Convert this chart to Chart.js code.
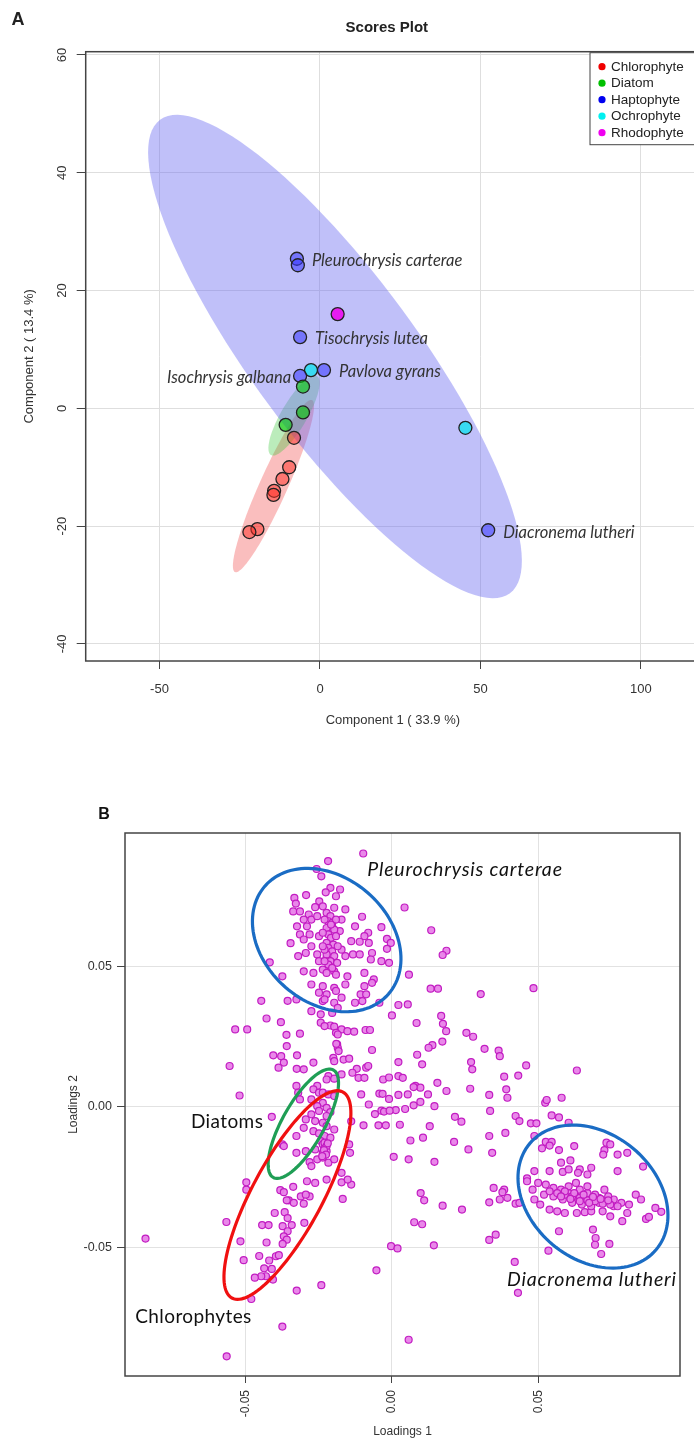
<!DOCTYPE html>
<html>
<head>
<meta charset="utf-8">
<script src="https://cdn.jsdelivr.net/npm/chart.js@4.4.0/dist/chart.umd.min.js"></script>
<style>
  html, body { margin: 0; padding: 0; background: #fff; overflow: hidden; width: 694px; height: 1441px; }
  #wrapA { position: absolute; left: 0; top: 0; }
  #wrapB { position: absolute; left: 0; top: 770px; }
</style>
</head>
<body>
<div id="wrapA"><canvas id="scoresChart" width="720" height="745"></canvas></div>
<div id="wrapB"><canvas id="loadingsChart" width="694" height="671"></canvas></div>
<script>
// =====================================================
// Panel A data: PCA scores
// =====================================================

const groupNames = ['Chlorophyte', 'Diatom', 'Haptophyte', 'Ochrophyte', 'Rhodophyte'];
const groupColors = ['#f00000', '#00c000', '#0000f0', '#00f0f0', '#f000f0'];
const groupFills = ['rgba(255,45,35,0.5)', 'rgba(0,200,0,0.6)', 'rgba(55,55,255,0.55)', 'rgba(0,230,240,0.7)', 'rgba(240,0,240,0.85)'];

const comp1Chlorophyte = [-8.1, -9.6, -11.7, -14.3, -14.5, -19.5, -22.0];
const comp2Chlorophyte = [-5.0, -10.0, -12.0, -14.0, -14.7, -20.5, -21.0];
const comp1Diatom = [-5.3, -5.3, -10.7];
const comp2Diatom = [3.7, -0.7, -2.8];
const comp1Haptophyte = [-7.2, -6.9, -6.2, -6.2, 1.25, 52.4];
const comp2Haptophyte = [25.4, 24.3, 12.1, 5.5, 6.5, -20.7];
const comp1Ochrophyte = [-2.8, 45.3];
const comp2Ochrophyte = [6.5, -3.3];
const comp1Rhodophyte = [5.5];
const comp2Rhodophyte = [16.0];

const comp1 = [comp1Chlorophyte, comp1Diatom, comp1Haptophyte, comp1Ochrophyte, comp1Rhodophyte];
const comp2 = [comp2Chlorophyte, comp2Diatom, comp2Haptophyte, comp2Ochrophyte, comp2Rhodophyte];

// species names, attached to haptophyte points
const speciesNames = ['Pleurochrysis carterae', 'Tisochrysis lutea', 'Isochrysis galbana', 'Pavlova gyrans', 'Diacronema lutheri'];
const speciesPoint = [0, 2, 3, 4, 5];
const speciesSide = ['right', 'right', 'left', 'right', 'right'];

// 95% confidence regions (centre, two half-axis vectors in score units)
const ellipseGroup = [0, 1, 2];
const ellipseCenter = [[-14.5, -13.2], [-8.1, -1.22], [4.67, 8.8]];
const ellipseAxisU = [[12.0, 14.6], [7.17, 6.71], [54.5, -40.2]];
const ellipseAxisV = [[3.98, -0.97], [3.49, -1.11], [-20.5, -8.29]];
const ellipseFill = ['rgba(240,70,70,0.35)', 'rgba(60,200,60,0.35)', 'rgba(105,105,240,0.42)'];

const scoreTicksX = [-50, 0, 50, 100];
const scoreTicksY = [-40, -20, 0, 20, 40, 60];

// =====================================================
// Panel B data: loadings [Loadings 1, Loadings 2]
// =====================================================

const pleuroPts = [
    [-0.0098, 0.0901], [-0.0218, 0.0874], [-0.0257, 0.0846], [-0.0241, 0.0820], [0.0043, 0.0709],
    [0.0134, 0.0628], [0.0186, 0.0555], [0.0173, 0.0540], [0.0058, 0.0470], [-0.0417, 0.0514], [-0.0374, 0.0464],
    [-0.0210, 0.0779], [-0.0177, 0.0773], [-0.0226, 0.0763], [-0.0191, 0.0749], [-0.0333, 0.0743],
    [-0.0293, 0.0753], [-0.0328, 0.0723], [-0.0248, 0.0731], [-0.0262, 0.0710], [-0.0236, 0.0713],
    [-0.0159, 0.0702], [-0.0337, 0.0695], [-0.0314, 0.0695], [-0.0284, 0.0684], [-0.0197, 0.0708],
    [-0.0102, 0.0676], [-0.0301, 0.0666], [-0.0275, 0.0666], [-0.0255, 0.0678], [-0.0172, 0.0666],
    [-0.0204, 0.0642], [-0.0290, 0.0642], [-0.0324, 0.0642], [-0.0314, 0.0613], [-0.0281, 0.0613],
    [-0.0249, 0.0607], [-0.0217, 0.0625], [-0.0178, 0.0625], [-0.0126, 0.0642], [-0.0036, 0.0639],
    [-0.0081, 0.0619], [-0.0094, 0.0607], [-0.0110, 0.0587], [-0.0139, 0.0589], [-0.0079, 0.0583],
    [-0.0017, 0.0597], [-0.0004, 0.0583], [-0.0017, 0.0562], [-0.0068, 0.0547], [-0.0072, 0.0524],
    [-0.0036, 0.0518], [-0.0010, 0.0512], [-0.0346, 0.0582], [-0.0301, 0.0595], [-0.0275, 0.0571],
    [-0.0294, 0.0547], [-0.0320, 0.0536], [-0.0255, 0.0542], [-0.0249, 0.0518], [-0.0223, 0.0530],
    [-0.0172, 0.0559], [-0.0159, 0.0536], [-0.0133, 0.0542], [-0.0110, 0.0542], [-0.0210, 0.0500],
    [-0.0236, 0.0488], [-0.0197, 0.0482], [-0.0152, 0.0464], [-0.0094, 0.0476], [-0.0062, 0.0453],
    [-0.0301, 0.0482], [-0.0268, 0.0476],
    [-0.0223, 0.0690], [-0.0210, 0.0678], [-0.0217, 0.0660], [-0.0204, 0.0654], [-0.0223, 0.0636],
    [-0.0197, 0.0630], [-0.0217, 0.0613], [-0.0208, 0.0601], [-0.0223, 0.0583], [-0.0200, 0.0577],
    [-0.0217, 0.0565], [-0.0204, 0.0553], [-0.0223, 0.0542], [-0.0197, 0.0536], [-0.0210, 0.0518],
    [-0.0217, 0.0506], [-0.0204, 0.0494], [-0.0223, 0.0476], [-0.0191, 0.0470], [-0.0230, 0.0666],
    [-0.0191, 0.0666], [-0.0236, 0.0619], [-0.0191, 0.0607], [-0.0230, 0.0559], [-0.0185, 0.0571],
    [-0.0230, 0.0518], [-0.0187, 0.0512], [-0.0236, 0.0571], [-0.0208, 0.0648],
    [-0.0275, 0.0435], [-0.0236, 0.0429], [-0.0197, 0.0423], [-0.0159, 0.0435], [-0.0094, 0.0429],
    [-0.0068, 0.0441], [-0.0249, 0.0406], [-0.0223, 0.0400], [-0.0191, 0.0412], [-0.0172, 0.0388],
    [-0.0236, 0.0376], [-0.0197, 0.0370], [-0.0230, 0.0382], [-0.0107, 0.0400], [-0.0088, 0.0400],
    [-0.0043, 0.0370], [-0.0275, 0.0340], [-0.0243, 0.0329], [-0.0204, 0.0334], [-0.0185, 0.0352],
    [-0.0126, 0.0370], [-0.0101, 0.0376]
];

const spreadPts = [
    [0.0132, 0.0420], [0.0157, 0.0420], [0.0303, 0.0401], [0.0483, 0.0422], [-0.0446, 0.0377],
    [-0.0356, 0.0377], [-0.0326, 0.0382], [0.0022, 0.0362], [0.0054, 0.0364], [0.0000, 0.0325],
    [0.0168, 0.0323], [0.0084, 0.0298], [0.0174, 0.0295], [0.0185, 0.0269], [0.0254, 0.0263],
    [0.0277, 0.0249], [0.0172, 0.0232], [0.0138, 0.0219], [0.0125, 0.0210], [0.0316, 0.0206],
    [0.0364, 0.0200], [0.0368, 0.0180], [0.0270, 0.0159], [0.0274, 0.0133], [0.0383, 0.0107],
    [0.0431, 0.0111], [0.0458, 0.0147], [0.0631, 0.0129], [0.0022, 0.0159], [0.0103, 0.0151],
    [0.0086, 0.0185], [-0.0068, 0.0202], [-0.0428, 0.0314], [-0.0379, 0.0301], [-0.0360, 0.0256],
    [-0.0314, 0.0260], [-0.0359, 0.0216], [-0.0324, 0.0183], [-0.0405, 0.0183], [-0.0378, 0.0180],
    [-0.0369, 0.0157], [-0.0387, 0.0139], [-0.0325, 0.0135], [-0.0301, 0.0133], [-0.0268, 0.0157],
    [-0.0535, 0.0275], [-0.0494, 0.0275], [-0.0554, 0.0145], [-0.0520, 0.0040],
    [-0.0243, 0.0299], [-0.0210, 0.0289], [-0.0230, 0.0287], [-0.0197, 0.0285], [-0.0172, 0.0275],
    [-0.0191, 0.0263], [-0.0185, 0.0257], [-0.0152, 0.0269], [-0.0129, 0.0267], [-0.0090, 0.0273],
    [-0.0075, 0.0273], [-0.0187, 0.0222], [-0.0185, 0.0210], [-0.0182, 0.0198], [-0.0190, 0.0224],
    [-0.0200, 0.0174], [-0.0197, 0.0162], [-0.0165, 0.0168], [-0.0146, 0.0171], [-0.0120, 0.0135],
    [-0.0088, 0.0139], [-0.0081, 0.0145], [-0.0135, 0.0121], [-0.0114, 0.0103], [-0.0094, 0.0103],
    [-0.0172, 0.0115], [-0.0217, 0.0109], [-0.0197, 0.0100],
    [-0.0030, 0.0097], [-0.0010, 0.0104], [0.0022, 0.0109], [0.0037, 0.0103], [0.0080, 0.0074],
    [0.0097, 0.0068], [0.0074, 0.0070], [0.0155, 0.0085], [0.0186, 0.0056], [0.0267, 0.0064],
    [0.0332, 0.0042], [0.0390, 0.0062], [0.0394, 0.0032], [-0.0043, 0.0047], [-0.0032, 0.0046],
    [-0.0010, 0.0028], [0.0022, 0.0042], [0.0054, 0.0044], [0.0123, 0.0044], [-0.0079, 0.0008],
    [-0.0105, 0.0044], [0.0013, -0.0012], [-0.0036, -0.0014], [-0.0027, -0.0017], [-0.0008, -0.0014],
    [-0.0058, -0.0026], [0.0045, -0.0008], [0.0074, 0.0005], [0.0097, 0.0017], [0.0145, 0.0002],
    [0.0215, -0.0036], [0.0237, -0.0053], [0.0335, -0.0015], [0.0422, -0.0033], [0.0435, -0.0051],
    [0.0474, -0.0059], [0.0493, -0.0059], [0.0523, 0.0014], [0.0528, 0.0024], [0.0579, 0.0032],
    [0.0545, -0.0031], [0.0570, -0.0038], [0.0603, -0.0057], [-0.0097, -0.0066], [-0.0139, -0.0052],
    [-0.0046, -0.0066], [-0.0021, -0.0066], [0.0027, -0.0064], [0.0129, -0.0069], [0.0063, -0.0120],
    [0.0106, -0.0110], [0.0212, -0.0125], [0.0261, -0.0152], [0.0332, -0.0104], [0.0387, -0.0093],
    [0.0342, -0.0164], [0.0006, -0.0178], [0.0057, -0.0187], [0.0145, -0.0196],
    [0.0098, -0.0307], [0.0110, -0.0333], [0.0173, -0.0352], [0.0239, -0.0366], [0.0076, -0.0411],
    [0.0103, -0.0418], [0.0143, -0.0493], [-0.0003, -0.0496], [0.0019, -0.0504], [-0.0053, -0.0582],
    [0.0057, -0.0829], [0.0332, -0.0474], [0.0354, -0.0455], [0.0419, -0.0552], [0.0430, -0.0662],
    [0.0534, -0.0512], [0.0332, -0.0340], [0.0368, -0.0330], [0.0394, -0.0324], [0.0422, -0.0345],
    [0.0435, -0.0342], [0.0347, -0.0289], [0.0383, -0.0295], [0.0377, -0.0304],
    [-0.0841, -0.0469], [-0.0565, -0.0410], [-0.0517, -0.0479], [-0.0506, -0.0546], [-0.0564, -0.0888],
    [-0.0374, -0.0782], [-0.0325, -0.0654], [-0.0241, -0.0635], [-0.0480, -0.0684]
];

const algaePts = [
    [-0.0223, 0.0097], [-0.0255, 0.0074], [-0.0268, 0.0062], [-0.0326, 0.0074], [-0.0320, 0.0050],
    [-0.0249, 0.0050], [-0.0236, 0.0050], [-0.0217, 0.0044], [-0.0197, 0.0038], [-0.0275, 0.0026],
    [-0.0314, 0.0026], [-0.0236, 0.0014], [-0.0255, 0.0002], [-0.0223, -0.0004], [-0.0249, -0.0015],
    [-0.0210, -0.0019], [-0.0223, -0.0033], [-0.0275, -0.0027], [-0.0294, -0.0045], [-0.0262, -0.0051],
    [-0.0236, -0.0057], [-0.0223, -0.0069], [-0.0197, -0.0081], [-0.0301, -0.0075], [-0.0268, -0.0087],
    [-0.0249, -0.0095], [-0.0230, -0.0104], [-0.0210, -0.0110], [-0.0243, -0.0122], [-0.0236, -0.0134],
    [-0.0230, -0.0146], [-0.0223, -0.0158], [-0.0236, -0.0164], [-0.0262, -0.0152], [-0.0294, -0.0158],
    [-0.0326, -0.0164], [-0.0374, -0.0134], [-0.0369, -0.0140], [-0.0410, -0.0036], [-0.0326, -0.0104],
    [-0.0281, -0.0197], [-0.0275, -0.0211], [-0.0255, -0.0187], [-0.0236, -0.0181], [-0.0217, -0.0199],
    [-0.0197, -0.0187], [-0.0146, -0.0134], [-0.0143, -0.0164], [-0.0172, -0.0235],
    [-0.0230, -0.0128], [-0.0223, -0.0140], [-0.0232, -0.0154], [-0.0225, -0.0170], [-0.0238, -0.0176],
    [-0.0219, -0.0130],
    [-0.0497, -0.0295], [-0.0497, -0.0269], [-0.0381, -0.0297], [-0.0369, -0.0304], [-0.0337, -0.0285],
    [-0.0311, -0.0319], [-0.0281, -0.0319], [-0.0294, -0.0313], [-0.0352, -0.0333], [-0.0335, -0.0342],
    [-0.0359, -0.0333], [-0.0301, -0.0345], [-0.0400, -0.0378], [-0.0366, -0.0375], [-0.0356, -0.0396],
    [-0.0443, -0.0421], [-0.0421, -0.0421], [-0.0373, -0.0425], [-0.0342, -0.0421], [-0.0299, -0.0413],
    [-0.0356, -0.0443], [-0.0369, -0.0461], [-0.0359, -0.0473], [-0.0373, -0.0488], [-0.0428, -0.0483],
    [-0.0453, -0.0531], [-0.0419, -0.0547], [-0.0396, -0.0532], [-0.0386, -0.0528], [-0.0436, -0.0575],
    [-0.0410, -0.0577], [-0.0430, -0.0603], [-0.0446, -0.0603], [-0.0468, -0.0608], [-0.0406, -0.0615],
    [-0.0290, -0.0265], [-0.0262, -0.0271], [-0.0223, -0.0259], [-0.0172, -0.0269], [-0.0139, -0.0277],
    [-0.0168, -0.0328], [-0.0151, -0.0259]
];

const diacroPts = [
    [0.0486, -0.0104], [0.0525, -0.0125], [0.0545, -0.0125], [0.0538, -0.0138], [0.0512, -0.0148],
    [0.0570, -0.0154], [0.0622, -0.0140], [0.0732, -0.0128], [0.0745, -0.0134], [0.0725, -0.0154],
    [0.0721, -0.0170], [0.0770, -0.0170], [0.0803, -0.0164], [0.0857, -0.0213], [0.0609, -0.0191],
    [0.0577, -0.0199], [0.0538, -0.0229], [0.0583, -0.0232], [0.0603, -0.0223], [0.0641, -0.0223],
    [0.0680, -0.0217], [0.0486, -0.0229], [0.0635, -0.0235], [0.0667, -0.0241], [0.0770, -0.0229],
    [0.0461, -0.0255],
    [0.0570, -0.0443], [0.0686, -0.0437], [0.0695, -0.0467], [0.0742, -0.0488], [0.0714, -0.0524],
    [0.0693, -0.0491], [0.0899, -0.0360], [0.0919, -0.0374], [0.0867, -0.0399], [0.0877, -0.0392],
    [0.0832, -0.0313], [0.0850, -0.0330], [0.0786, -0.0407], [0.0803, -0.0378], [0.0486, -0.0330],
    [0.0506, -0.0348], [0.0538, -0.0366], [0.0564, -0.0372], [0.0590, -0.0378], [0.0631, -0.0378],
    [0.0658, -0.0375], [0.0680, -0.0372], [0.0719, -0.0372], [0.0745, -0.0390], [0.0757, -0.0354],
    [0.0809, -0.0348], [0.0783, -0.0342], [0.0480, -0.0295], [0.0519, -0.0313], [0.0551, -0.0319],
    [0.0583, -0.0330], [0.0615, -0.0342], [0.0648, -0.0348], [0.0680, -0.0354], [0.0706, -0.0342],
    [0.0732, -0.0336], [0.0757, -0.0330], [0.0603, -0.0307], [0.0628, -0.0319], [0.0654, -0.0324],
    [0.0680, -0.0330], [0.0706, -0.0324], [0.0738, -0.0319], [0.0577, -0.0295], [0.0551, -0.0289],
    [0.0525, -0.0277], [0.0499, -0.0271], [0.0461, -0.0265], [0.0603, -0.0283], [0.0641, -0.0295],
    [0.0667, -0.0307], [0.0693, -0.0313], [0.0628, -0.0271], [0.0667, -0.0283], [0.0725, -0.0295],
    [0.0538, -0.0301], [0.0564, -0.0307], [0.0590, -0.0313], [0.0615, -0.0319], [0.0641, -0.0324],
    [0.0667, -0.0333], [0.0693, -0.0336], [0.0719, -0.0345], [0.0745, -0.0348], [0.0770, -0.0354],
    [0.0590, -0.0301], [0.0622, -0.0307], [0.0654, -0.0313], [0.0686, -0.0321], [0.0712, -0.0328],
    [0.0738, -0.0333], [0.0641, -0.0336], [0.0673, -0.0342], [0.0577, -0.0319], [0.0609, -0.0328]
];

// hand-drawn rings of panel B (centre, two half-axis vectors in loading units)
const ringNames = ['Pleurochrysis carterae', 'Diatoms', 'Chlorophytes', 'Diacronema lutheri'];
const ringCenter = [[-0.02227, 0.0593], [-0.03024, -0.00605], [-0.03567, -0.03142], [0.0686, -0.03196]];
const ringAxisU = [[0.02106, -0.01922], [0.01027, 0.01911], [0.01894, 0.03665], [0.0216, -0.01883]];
const ringAxisV = [[-0.0141, -0.01676], [0.00622, -0.00364], [0.01051, -0.00591], [-0.01372, -0.01712]];
const ringColors = ['#1a6cc4', '#1f9e55', '#f01010', '#1a6cc4'];
const ringLabelAt = [[-0.0084, 0.0842], [-0.0686, -0.0054], [-0.0876, -0.0746], [0.0393, -0.0617]];
const ringItalic = [true, false, false, true];

const loadingTicks = [-0.05, 0, 0.05];

// =====================================================
// Shared helpers
// =====================================================

Chart.defaults.font.family = '"Liberation Sans", Arial, sans-serif';
Chart.defaults.color = '#333';

function traceEllipse(ctx, xs, ys, c, u, v) {
    ctx.beginPath();
    const n = 120;
    for (let i = 0; i <= n; i++) {
        const t = (i / n) * Math.PI * 2;
        const px = xs.getPixelForValue(c[0] + u[0] * Math.cos(t) + v[0] * Math.sin(t));
        const py = ys.getPixelForValue(c[1] + u[1] * Math.cos(t) + v[1] * Math.sin(t));
        if (i === 0) ctx.moveTo(px, py); else ctx.lineTo(px, py);
    }
    ctx.closePath();
}

function clipToArea(ctx, a) {
    ctx.beginPath();
    ctx.rect(a.left, a.top, a.right - a.left, a.bottom - a.top);
    ctx.clip();
}

// =====================================================
// Panel A: Scores Plot
// =====================================================

const scoresDecor = {
    id: 'scoresDecor',
    beforeDatasetsDraw(chart) {
        const { ctx, chartArea, scales } = chart;
        ctx.save();
        clipToArea(ctx, chartArea);
        ellipseGroup.forEach((g, i) => {
            traceEllipse(ctx, scales.x, scales.y, ellipseCenter[i], ellipseAxisU[i], ellipseAxisV[i]);
            ctx.fillStyle = ellipseFill[i];
            ctx.fill();
        });
        ctx.restore();
    },
    afterDatasetsDraw(chart) {
        const { ctx, scales } = chart;
        ctx.save();
        ctx.font = 'italic 16.5px Lato, "Open Sans", sans-serif';
        ctx.fillStyle = '#333';
        ctx.textBaseline = 'middle';
        speciesNames.forEach((name, i) => {
            const k = speciesPoint[i];
            const px = scales.x.getPixelForValue(comp1Haptophyte[k]);
            const py = scales.y.getPixelForValue(comp2Haptophyte[k]) + 2;
            if (speciesSide[i] === 'left') {
                ctx.textAlign = 'right';
                ctx.fillText(name, px - 9, py);
            } else {
                ctx.textAlign = 'left';
                ctx.fillText(name, px + 15, py);
            }
        });
        ctx.restore();
    },
    afterDraw(chart) {
        const { ctx, chartArea, scales } = chart;
        ctx.save();
        // plot box
        ctx.strokeStyle = '#444';
        ctx.lineWidth = 1.5;
        ctx.strokeRect(chartArea.left, chartArea.top, chartArea.right - chartArea.left, chartArea.bottom - chartArea.top);

        // rotated y tick labels
        ctx.fillStyle = '#333';
        ctx.font = '13px "Liberation Sans", Arial, sans-serif';
        ctx.textAlign = 'center';
        ctx.textBaseline = 'middle';
        scoreTicksY.forEach(v => {
            const y = scales.y.getPixelForValue(v);
            ctx.save();
            ctx.translate(62, y);
            ctx.rotate(-Math.PI / 2);
            ctx.fillText(String(v), 0, 0);
            ctx.restore();
        });

        // title and panel letter
        ctx.fillStyle = '#222';
        ctx.font = 'bold 15px "Liberation Sans", Arial, sans-serif';
        ctx.fillText('Scores Plot', (chartArea.left + chartArea.right) / 2 - 6, 28);
        ctx.font = 'bold 18px "Liberation Sans", Arial, sans-serif';
        ctx.fillText('A', 18, 20);

        // legend inside the plot
        const lx = chartArea.right - 110;
        const ly = chartArea.top + 1;
        ctx.fillStyle = '#fff';
        ctx.fillRect(lx, ly, 120, 92);
        ctx.strokeStyle = '#444';
        ctx.lineWidth = 1;
        ctx.strokeRect(lx, ly, 120, 92);
        ctx.font = '13.5px "Liberation Sans", Arial, sans-serif';
        ctx.textAlign = 'left';
        groupNames.forEach((name, i) => {
            const y = ly + 14 + i * 16.5;
            ctx.beginPath();
            ctx.arc(lx + 12, y, 3.6, 0, Math.PI * 2);
            ctx.fillStyle = groupColors[i];
            ctx.fill();
            ctx.fillStyle = '#222';
            ctx.fillText(name, lx + 21, y + 0.5);
        });
        ctx.restore();
    }
};

const scoresChart = new Chart(document.getElementById('scoresChart'), {
    type: 'scatter',
    data: {
        datasets: groupNames.map((name, i) => ({
            label: name,
            data: comp1[i].map((x, k) => ({ x: x, y: comp2[i][k] })),
            backgroundColor: groupFills[i],
            borderColor: '#222',
            borderWidth: 1.3,
            pointRadius: 6.5
        }))
    },
    options: {
        responsive: false,
        animation: false,
        events: [],
        layout: { padding: { top: 51.7, right: 20, bottom: 0, left: 0 } },
        plugins: { legend: { display: false }, tooltip: { enabled: false } },
        scales: {
            x: {
                type: 'linear',
                min: -73,
                max: 118.4,
                afterFit: scale => { scale.height = 84; },
                border: { display: false },
                grid: { color: '#dedede', lineWidth: 1, tickLength: 8, tickColor: '#444' },
                ticks: {
                    stepSize: 50,
                    includeBounds: false,
                    padding: 13,
                    font: { size: 13 },
                    color: '#333',
                    callback: v => scoreTicksX.includes(v) ? String(v) : ''
                },
                title: {
                    display: true,
                    text: 'Component 1 ( 33.9 %)',
                    font: { size: 13 },
                    color: '#333',
                    padding: { top: 0, bottom: 17 }
                }
            },
            y: {
                type: 'linear',
                min: -42.9,
                max: 60.56,
                afterFit: scale => { scale.width = 85.7; },
                border: { display: false },
                grid: { color: '#dedede', lineWidth: 1, tickLength: 9, tickColor: '#444' },
                ticks: { stepSize: 20, includeBounds: false, display: false },
                title: {
                    display: true,
                    text: 'Component 2 ( 13.4 %)',
                    font: { size: 13 },
                    color: '#333',
                    padding: { top: 22, bottom: 0 }
                }
            }
        }
    },
    plugins: [scoresDecor]
});

// =====================================================
// Panel B: Loadings Plot
// =====================================================

const loadingPts = pleuroPts.concat(spreadPts, algaePts, diacroPts);

const loadingsDecor = {
    id: 'loadingsDecor',
    afterDatasetsDraw(chart) {
        const { ctx, chartArea, scales } = chart;
        ctx.save();
        clipToArea(ctx, chartArea);
        ringNames.forEach((name, i) => {
            traceEllipse(ctx, scales.x, scales.y, ringCenter[i], ringAxisU[i], ringAxisV[i]);
            ctx.strokeStyle = ringColors[i];
            ctx.lineWidth = 3.2;
            ctx.stroke();
        });
        ctx.fillStyle = '#111';
        ctx.textAlign = 'left';
        ctx.textBaseline = 'middle';
        ringNames.forEach((name, i) => {
            if (ringItalic[i]) {
                ctx.font = 'italic 19.5px Lato, "Open Sans", sans-serif';
                ctx.letterSpacing = '0.8px';
            } else {
                ctx.font = '19px Lato, "Open Sans", sans-serif';
                ctx.letterSpacing = '0.4px';
            }
            ctx.fillText(name, scales.x.getPixelForValue(ringLabelAt[i][0]), scales.y.getPixelForValue(ringLabelAt[i][1]));
        });
        ctx.restore();
    },
    afterDraw(chart) {
        const { ctx, chartArea } = chart;
        ctx.save();
        ctx.strokeStyle = '#444';
        ctx.lineWidth = 1.5;
        ctx.strokeRect(chartArea.left, chartArea.top, chartArea.right - chartArea.left, chartArea.bottom - chartArea.top);
        ctx.fillStyle = '#111';
        ctx.font = 'bold 16px "Liberation Sans", Arial, sans-serif';
        ctx.textAlign = 'center';
        ctx.textBaseline = 'middle';
        ctx.fillText('B', 104, 45);
        ctx.restore();
    }
};

function loadingLabel(v) {
    if (Math.abs(v) < 1e-9) return '0.00';
    const hit = loadingTicks.find(t => Math.abs(t - v) < 1e-9);
    return hit === undefined ? '' : hit.toFixed(2);
}

const loadingsChart = new Chart(document.getElementById('loadingsChart'), {
    type: 'scatter',
    data: {
        datasets: [{
            label: 'Loadings',
            data: loadingPts.map(p => ({ x: p[0], y: p[1] })),
            backgroundColor: 'rgba(232,130,232,0.95)',
            borderColor: '#c21cc2',
            borderWidth: 1.2,
            pointRadius: 3.5
        }]
    },
    options: {
        responsive: false,
        animation: false,
        events: [],
        layout: { padding: { top: 63, right: 14, bottom: 0, left: 0 } },
        plugins: { legend: { display: false }, tooltip: { enabled: false } },
        scales: {
            x: {
                type: 'linear',
                min: -0.0911,
                max: 0.0983,
                afterFit: scale => { scale.height = 65; },
                border: { display: false },
                grid: { color: '#e2e2e2', lineWidth: 1, tickLength: 7, tickColor: '#444' },
                ticks: {
                    stepSize: 0.05,
                    includeBounds: false,
                    minRotation: 90,
                    maxRotation: 90,
                    padding: 7,
                    font: { size: 12 },
                    color: '#333',
                    callback: loadingLabel
                },
                title: {
                    display: true,
                    text: 'Loadings 1',
                    font: { size: 12 },
                    color: '#333',
                    padding: { top: 0, bottom: 2 }
                }
            },
            y: {
                type: 'linear',
                min: -0.0958,
                max: 0.0974,
                afterFit: scale => { scale.width = 125; },
                border: { display: false },
                grid: { color: '#e2e2e2', lineWidth: 1, tickLength: 8, tickColor: '#444' },
                ticks: {
                    stepSize: 0.05,
                    includeBounds: false,
                    padding: 5,
                    font: { size: 12.5 },
                    color: '#333',
                    callback: loadingLabel
                },
                title: {
                    display: true,
                    text: 'Loadings 2',
                    font: { size: 12 },
                    color: '#333',
                    padding: { top: 66, bottom: 0 }
                }
            }
        }
    },
    plugins: [loadingsDecor]
});
</script>
</body>
</html>
